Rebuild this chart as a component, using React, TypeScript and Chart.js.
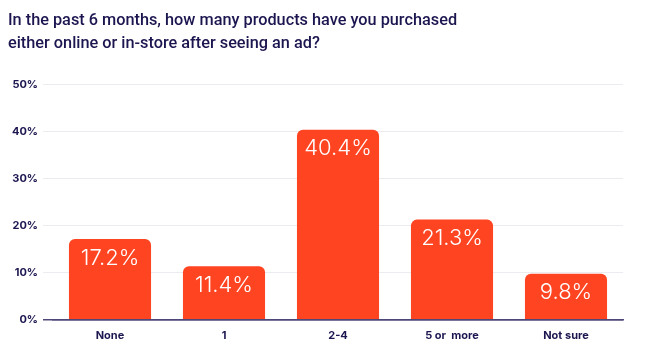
import React, { useEffect, useRef } from "react";
import { Chart, registerables } from "chart.js";

Chart.register(...registerables);

const titleLines = [
  "In the past 6 months, how many products have you purchased",
  "either online or in-store after seeing an ad?",
];
const categories = ["None", "1", "2-4", "5 or  more", "Not sure"];
const values = [17.2, 11.4, 40.4, 21.3, 9.8];
const yTicks = [0, 10, 20, 30, 40, 50];

const NAVY = "#1c1650";
const BAR = "#ff4422";
const GRID = "#ebebf0";
const AXIS = "#4d4878";

const valueLabels = {
  id: "valueLabels",
  afterDatasetsDraw(chart: any) {
    const ctx = chart.ctx;
    const meta = chart.getDatasetMeta(0);
    ctx.save();
    ctx.fillStyle = "#ffffff";
    ctx.font = "300 22px Inter";
    ctx.textAlign = "center";
    ctx.textBaseline = "top";
    meta.data.forEach((bar: any, i: number) => {
      ctx.fillText(values[i].toFixed(1) + "%", bar.x, bar.y + 8);
    });
    ctx.restore();
  },
};

export default function App() {
  const ref = useRef<HTMLCanvasElement | null>(null);
  useEffect(() => {
    document.body.style.margin = "0";
    const chart = new Chart(ref.current!, {
      type: "bar",
      data: {
        labels: categories,
        datasets: [
          {
            data: values,
            backgroundColor: BAR,
            borderRadius: 6,
            barPercentage: 0.72,
            categoryPercentage: 1,
          },
        ],
      },
      options: {
        animation: false,
        responsive: false,
        layout: { padding: { left: 8, right: 23, top: 0, bottom: 10 } },
        plugins: {
          legend: { display: false },
          tooltip: { enabled: false },
          title: {
            display: true,
            text: titleLines,
            align: "start",
            color: NAVY,
            font: { family: "Roboto", size: 16.3, weight: "500", lineHeight: 1.4 },
            padding: { top: 10, bottom: 29 },
          },
        },
        scales: {
          x: {
            grid: { display: false, drawTicks: false },
            border: { display: true, color: AXIS, width: 1.5 },
            ticks: {
              color: NAVY,
              padding: 9,
              font: { family: "Inter", size: 11, weight: "bold" },
            },
          },
          y: {
            min: 0,
            max: 50,
            afterFit: (s: any) => {
              s.width = 45;
            },
            afterBuildTicks: (s: any) => {
              s.ticks = yTicks.map((v) => ({ value: v }));
            },
            border: { display: false },
            grid: {
              color: (c: any) => (c.tick && c.tick.value === 0 ? AXIS : GRID),
              tickColor: (c: any) => (c.tick && c.tick.value === 0 ? AXIS : GRID),
              lineWidth: (c: any) => (c.tick && c.tick.value === 0 ? 1.5 : 1),
              drawTicks: true,
              tickLength: 10,
            },
            ticks: {
              color: NAVY,
              padding: 5,
              font: { family: "Inter", size: 11, weight: "bold" },
              callback: (v: any) => v + "%",
            },
          },
        },
      },
      plugins: [valueLabels],
    });
    return () => chart.destroy();
  }, []);
  return (
    <div style={{ width: 646, height: 361, background: "#fff" }}>
      <canvas ref={ref} width={646} height={361} />
    </div>
  );
}
